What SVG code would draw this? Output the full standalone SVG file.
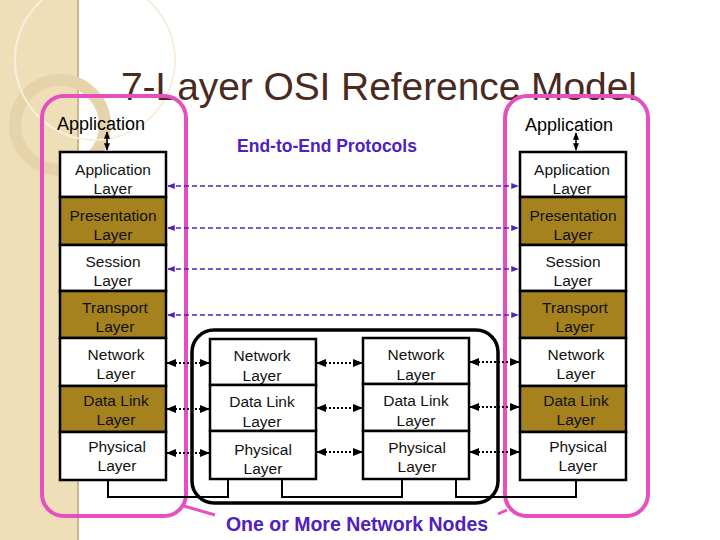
<svg xmlns="http://www.w3.org/2000/svg" width="720" height="540" viewBox="0 0 720 540">
<defs>
<marker id="ap" viewBox="0 0 10 10" refX="9" refY="5" markerWidth="5" markerHeight="5" orient="auto-start-reverse"><path d="M0,1L10,5L0,9z" fill="#5020c0"/></marker>
<marker id="ak" viewBox="0 0 10 10" refX="9" refY="5" markerWidth="5" markerHeight="5" orient="auto-start-reverse"><path d="M0,1L10,5L0,9z" fill="#000"/></marker>
</defs>
<style>
.w{fill:#fff;stroke:#000;stroke-width:2.5}
.t{fill:#a5821e;stroke:#000;stroke-width:2.5}
text{font-family:"Liberation Sans",Arial,sans-serif}
.l{font-size:15.5px;text-anchor:middle;fill:#111}
.pd{stroke:#5020c0;stroke-width:1.5;stroke-dasharray:5,3;fill:none}
.kd{stroke:#000;stroke-width:2;stroke-dasharray:2,2;fill:none}
.pk{fill:none;stroke:#e64fc0;stroke-width:4}
</style>
<rect width="720" height="540" fill="#fff"/>
<rect x="0" y="0" width="78" height="540" fill="#efdfb9"/>
<line x1="78" y1="0" x2="78" y2="540" stroke="#cbb78f" stroke-width="2"/>
<circle cx="60" cy="125" r="45" fill="none" stroke="#e6d3aa" stroke-width="12"/>
<circle cx="95" cy="60" r="80" fill="none" stroke="#f7eedc" stroke-width="2"/>
<text x="379" y="100" font-family="Lato,sans-serif" font-size="39" fill="#4a2a1f" text-anchor="middle" textLength="516" lengthAdjust="spacing">7-Layer OSI Reference Model</text>
<g id="pink-left"><rect class="pk" x="42" y="96" width="144" height="420" rx="22"/></g>
<g id="pink-right"><rect class="pk" x="505" y="96" width="143" height="420" rx="22"/></g>
<g id="nodes-box"><rect x="192" y="330" width="306" height="173" rx="22" fill="none" stroke="#000" stroke-width="3.5"/></g>
<text x="57" y="130" font-size="18">Application</text>
<text x="525" y="131" font-size="18">Application</text>
<text x="327" y="152" font-size="17.5" font-weight="bold" fill="#5020c0" text-anchor="middle">End-to-End Protocols</text>
<g id="left-stack">
<rect class="w" x="60" y="152" width="106" height="45"/><text class="l" x="113" y="175">Application</text><text class="l" x="113" y="194">Layer</text>
<rect class="t" x="60" y="197" width="106" height="48"/><text class="l" x="113" y="221">Presentation</text><text class="l" x="113" y="240">Layer</text>
<rect class="w" x="60" y="245" width="106" height="46"/><text class="l" x="113" y="267">Session</text><text class="l" x="113" y="286">Layer</text>
<rect class="t" x="60" y="291" width="106" height="47"/><text class="l" x="115" y="313">Transport</text><text class="l" x="115" y="332">Layer</text>
<rect class="w" x="60" y="338" width="106" height="48"/><text class="l" x="116" y="360">Network</text><text class="l" x="116" y="379">Layer</text>
<rect class="t" x="60" y="386" width="106" height="46"/><text class="l" x="116" y="406">Data Link</text><text class="l" x="116" y="425">Layer</text>
<rect class="w" x="60" y="432" width="106" height="48"/><text class="l" x="117" y="452">Physical</text><text class="l" x="117" y="471">Layer</text>
</g>
<g id="right-stack">
<rect class="w" x="520" y="152" width="106" height="45"/><text class="l" x="572" y="175">Application</text><text class="l" x="572" y="194">Layer</text>
<rect class="t" x="520" y="197" width="106" height="48"/><text class="l" x="573" y="221">Presentation</text><text class="l" x="573" y="240">Layer</text>
<rect class="w" x="520" y="245" width="106" height="46"/><text class="l" x="573" y="267">Session</text><text class="l" x="573" y="286">Layer</text>
<rect class="t" x="520" y="291" width="106" height="47"/><text class="l" x="575" y="313">Transport</text><text class="l" x="575" y="332">Layer</text>
<rect class="w" x="520" y="338" width="106" height="48"/><text class="l" x="576" y="360">Network</text><text class="l" x="576" y="379">Layer</text>
<rect class="t" x="520" y="386" width="106" height="46"/><text class="l" x="576" y="406">Data Link</text><text class="l" x="576" y="425">Layer</text>
<rect class="w" x="520" y="432" width="106" height="48"/><text class="l" x="578" y="452">Physical</text><text class="l" x="578" y="471">Layer</text>
</g>
<g id="mid-stack-1">
<rect class="w" x="210" y="339" width="106" height="46"/><text class="l" x="262" y="361">Network</text><text class="l" x="262" y="381">Layer</text>
<rect class="w" x="210" y="385" width="106" height="46"/><text class="l" x="262" y="407">Data Link</text><text class="l" x="262" y="427">Layer</text>
<rect class="w" x="210" y="431" width="106" height="48"/><text class="l" x="263" y="455">Physical</text><text class="l" x="263" y="474">Layer</text>
</g>
<g id="mid-stack-2">
<rect class="w" x="363" y="338" width="106" height="46"/><text class="l" x="416" y="360">Network</text><text class="l" x="416" y="380">Layer</text>
<rect class="w" x="363" y="384" width="106" height="47"/><text class="l" x="416" y="406">Data Link</text><text class="l" x="416" y="426">Layer</text>
<rect class="w" x="363" y="431" width="106" height="48"/><text class="l" x="417" y="453">Physical</text><text class="l" x="417" y="472">Layer</text>
</g>
<g id="connectors">
<line x1="107" y1="132" x2="107" y2="150" stroke="#000" stroke-width="1.5" marker-start="url(#ak)" marker-end="url(#ak)"/>
<line x1="576" y1="133" x2="576" y2="150" stroke="#000" stroke-width="1.5" marker-start="url(#ak)" marker-end="url(#ak)"/>
<line class="pd" x1="168" y1="186" x2="518" y2="186" marker-start="url(#ap)" marker-end="url(#ap)"/>
<line class="pd" x1="168" y1="228" x2="518" y2="228" marker-start="url(#ap)" marker-end="url(#ap)"/>
<line class="pd" x1="168" y1="269" x2="518" y2="269" marker-start="url(#ap)" marker-end="url(#ap)"/>
<line class="pd" x1="168" y1="315" x2="518" y2="315" marker-start="url(#ap)" marker-end="url(#ap)"/>
<line class="kd" x1="167" y1="363" x2="209" y2="363" marker-start="url(#ak)" marker-end="url(#ak)"/>
<line class="kd" x1="167" y1="409" x2="209" y2="409" marker-start="url(#ak)" marker-end="url(#ak)"/>
<line class="kd" x1="167" y1="453" x2="209" y2="453" marker-start="url(#ak)" marker-end="url(#ak)"/>
<line class="kd" x1="317" y1="363" x2="362" y2="363" marker-start="url(#ak)" marker-end="url(#ak)"/>
<line class="kd" x1="317" y1="408" x2="362" y2="408" marker-start="url(#ak)" marker-end="url(#ak)"/>
<line class="kd" x1="317" y1="452" x2="362" y2="452" marker-start="url(#ak)" marker-end="url(#ak)"/>
<line class="kd" x1="470" y1="362" x2="519" y2="362" marker-start="url(#ak)" marker-end="url(#ak)"/>
<line class="kd" x1="470" y1="407" x2="519" y2="407" marker-start="url(#ak)" marker-end="url(#ak)"/>
<line class="kd" x1="470" y1="452" x2="519" y2="452" marker-start="url(#ak)" marker-end="url(#ak)"/>
<polyline points="108,480 108,497 228,497 228,479" fill="none" stroke="#000" stroke-width="2"/>
<polyline points="282,479 282,497 402,497 402,479" fill="none" stroke="#000" stroke-width="2"/>
<polyline points="456,479 456,497 576,497 576,480" fill="none" stroke="#000" stroke-width="2"/>
<line x1="184" y1="506" x2="215" y2="515" stroke="#e64fc0" stroke-width="3"/>
<line x1="507" y1="510" x2="498" y2="514" stroke="#e64fc0" stroke-width="3"/>
</g>
<text x="357" y="531" font-size="19.5" font-weight="bold" fill="#5020c0" text-anchor="middle">One or More Network Nodes</text>
</svg>
